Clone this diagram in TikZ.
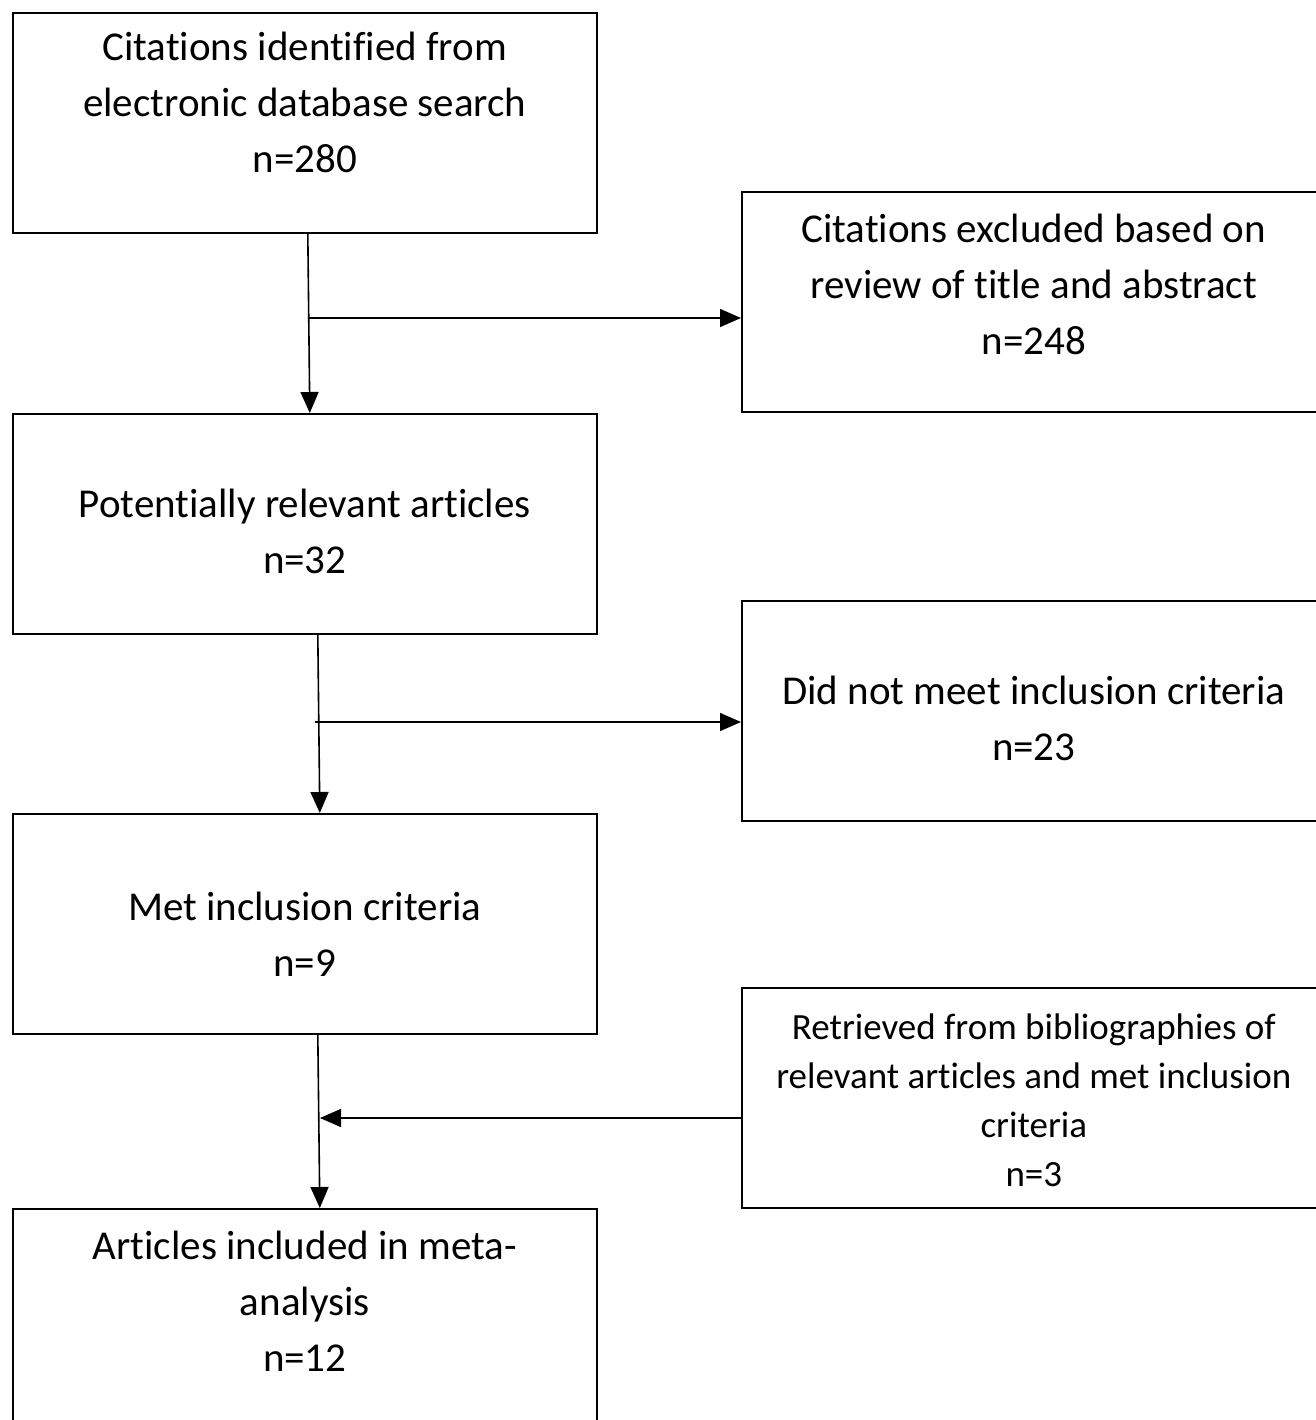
\documentclass[tikz,border=0pt]{standalone}
\usepackage{fontspec}
\setmainfont{Carlito}[Ligatures=NoCommon]
\usepackage{tikz}
\usetikzlibrary{positioning, arrows.meta}
\tikzset{
    stage/.style={rectangle, draw=black, line width=1.6pt, fill=white, minimum width=584pt, minimum height=220pt, inner sep=0pt, anchor=north west},
    stageText/.style={align=center, inner sep=0pt, anchor=north, font=\fontsize{41}{56}\selectfont},
    smallText/.style={stageText, font=\fontsize{37}{49}\selectfont},
    arrow/.style={-{Triangle[length=21pt, width=18pt]}, line width=1.6pt}
}

\begin{document}
\begin{tikzpicture}[x=1pt, y=-1pt]
    \useasboundingbox (0,0) rectangle (1315,1420);

    % Boxes
    \node[stage] (cit) at (12,12) {};
    \node[stage] (excl) at (741,191) {};
    \node[stage] (pot) at (12,413) {};
    \node[stage] (fail) at (741,600) {};
    \node[stage] (met) at (12,813) {};
    \node[stage] (ret) at (741,987) {};
    \node[stage] (incl) at (12,1208) {};

    % Box texts
    \node[stageText, below=20pt of cit.north] (citT) {Citations identified from\\electronic database search\\n=280};
    \node[stageText, below=23pt of excl.north] (exclT) {Citations excluded based on\\review of title and abstract\\n=248};
    \node[stageText, below=76pt of pot.north] (potT) {Potentially relevant articles\\n=32};
    \node[stageText, below=76pt of fail.north] (failT) {Did not meet inclusion criteria\\n=23};
    \node[stageText, below=79pt of met.north] (metT) {Met inclusion criteria\\n=9};
    \node[smallText, below=27pt of ret.north] (retT) {Retrieved from bibliographies of\\relevant articles and met inclusion\\criteria\\n=3};
    \node[stageText, below=23pt of incl.north] (inclT) {Articles included in meta-\\analysis\\n=12};

    % Junctions
    \coordinate (j1) at (308,318);
    \coordinate (j2) at (315,722);
    \coordinate (j3) at (320,1118);

    % Connectors
    \draw[arrow] ([xshift=3pt]cit.south) -- ([xshift=5pt]pot.north);
    \draw[arrow] (j1) -- (excl.west |- j1);
    \draw[arrow] ([xshift=13pt]pot.south) -- ([xshift=15pt]met.north);
    \draw[arrow] (j2) -- (fail.west |- j2);
    \draw[arrow] ([xshift=13pt]met.south) -- ([xshift=15pt]incl.north);
    \draw[arrow] (ret.west |- j3) -- (j3);
\end{tikzpicture}
\end{document}
